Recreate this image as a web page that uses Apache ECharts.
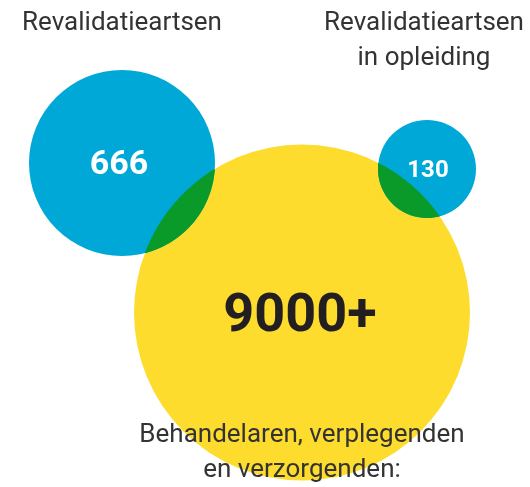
<!DOCTYPE html>
<html>
<head>
<meta charset="utf-8">
<script src="https://cdn.jsdelivr.net/npm/echarts@6/dist/echarts.min.js"></script>
<style>
  html, body { margin: 0; padding: 0; background: #fff; }
  #chart { width: 530px; height: 487px; }
</style>
</head>
<body>
<div id="chart"></div>
<script>
// data: big group first, then the two smaller groups
const groups = [
  'Behandelaren, verplegenden\nen verzorgenden:',
  'Revalidatieartsen',
  'Revalidatieartsen\nin opleiding'
];
const counts = ['9000+', '666', '130'];
// which circles overlap (index pairs)
const overlaps = [[0, 1], [0, 2]];

// layout (pixel-like units on hidden axes)
const centers = [[302, 312.5], [122, 163], [427, 169]];
const diameters = [336, 186, 98];
const fills = ['#FDDC2E', '#00A8D8', '#00A8D8'];
const overlapColor = '#0A9A2A';
const nameOffsets = [[0, 140], [0, -140], [-3, -128]];
const countOffsets = [[-2, 5], [-3, 2], [1, 2]];
const countSizes = [54, 34, 24];
const countColors = ['#231F20', '#fff', '#fff'];

const chart = echarts.init(document.getElementById('chart'));

function lensPoints(p1, r1, p2, r2) {
  const dx = p2[0] - p1[0], dy = p2[1] - p1[1];
  const d = Math.sqrt(dx * dx + dy * dy);
  const a = (r1 * r1 - r2 * r2 + d * d) / (2 * d);
  const th = Math.atan2(dy, dx);
  const a1 = Math.acos(a / r1);
  const a2 = Math.acos((d - a) / r2);
  const pts = [];
  const n = 60;
  for (let k = 0; k <= n; k++) {
    const t = th - a1 + (2 * a1 * k) / n;
    pts.push([p1[0] + r1 * Math.cos(t), p1[1] + r1 * Math.sin(t)]);
  }
  for (let k = 0; k <= n; k++) {
    const t = th + Math.PI - a2 + (2 * a2 * k) / n;
    pts.push([p2[0] + r2 * Math.cos(t), p2[1] + r2 * Math.sin(t)]);
  }
  return pts;
}

const option = {
  animation: false,
  grid: { left: 0, right: 0, top: 0, bottom: 0 },
  xAxis: { type: 'value', min: 0, max: 530, show: false },
  yAxis: { type: 'value', min: 0, max: 487, inverse: true, show: false },
  series: [
    {
      type: 'scatter',
      z: 2,
      silent: true,
      symbol: 'circle',
      data: centers.map((c, i) => ({
        value: c,
        symbolSize: diameters[i],
        itemStyle: { color: fills[i], opacity: 1 }
      }))
    },
    {
      type: 'custom',
      z: 3,
      silent: true,
      data: overlaps,
      renderItem: (params, api) => {
        const i = api.value(0), j = api.value(1);
        const p1 = api.coord(centers[i]);
        const p2 = api.coord(centers[j]);
        return {
          type: 'polygon',
          shape: { points: lensPoints(p1, diameters[i] / 2, p2, diameters[j] / 2) },
          style: { fill: overlapColor }
        };
      }
    },
    {
      type: 'scatter',
      z: 10,
      silent: true,
      symbolSize: 0,
      itemStyle: { opacity: 1 },
      data: centers.map((c, i) => ({
        value: c,
        label: {
          show: true,
          position: 'inside',
          offset: nameOffsets[i],
          formatter: groups[i],
          fontFamily: 'Roboto',
          fontSize: 26,
          lineHeight: 35,
          color: '#333',
          opacity: 1
        }
      }))
    },
    {
      type: 'scatter',
      z: 11,
      silent: true,
      symbolSize: 0,
      itemStyle: { opacity: 1 },
      data: centers.map((c, i) => ({
        value: c,
        label: {
          show: true,
          position: 'inside',
          offset: countOffsets[i],
          formatter: counts[i],
          fontFamily: 'Roboto',
          fontWeight: 'bold',
          fontSize: countSizes[i],
          color: countColors[i],
          opacity: 1
        }
      }))
    }
  ]
};

chart.setOption(option);
</script>
</body>
</html>
